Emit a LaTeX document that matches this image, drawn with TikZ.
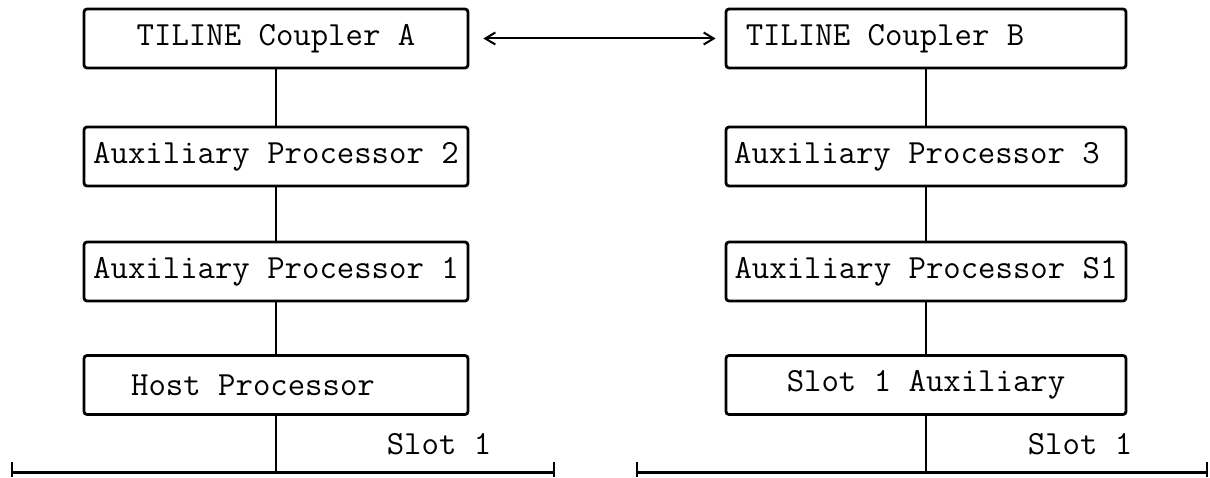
\documentclass[tikz,border=0pt]{standalone}
\usepackage{tikz}
\usetikzlibrary{arrows.meta,calc}

\begin{document}
\begin{tikzpicture}[
  x=0.5pt,y=0.5pt,
  font=\ttfamily\fontsize{16.9}{18}\selectfont,
  box/.style={draw,line width=1.4pt,rounded corners=1.5pt,minimum height=29.5pt,
              inner sep=0pt,fill=white,text=black},
  boxl/.style={box,minimum width=192pt},
  boxr/.style={box,minimum width=200pt},
  link/.style={line width=1pt},
  bus/.style={line width=1.5pt},
  flow/.style={{Straight Barb[length=5pt,width=6pt]}-{Straight Barb[length=5pt,width=6pt]},
               line width=1pt,shorten <=7pt,shorten >=4.5pt}]

\useasboundingbox (0,0) rectangle (1210,477);

% ---- nodes ------------------------------------------------------------
\node[boxl] (cplA) at (276,438.5) {TILINE Coupler A};
\node[boxl] (apII) at (276,320.5) {Auxiliary Processor 2};
\node[boxl] (apI)  at (276,205.5) {Auxiliary Processor 1};
\node[boxl] (host) at (276,92)    {Host Processor\hspace*{23pt}};

\node[boxr] (cplB)  at (926,438.5) {TILINE Coupler B\hspace*{41pt}};
\node[boxr] (apIII) at (926,320.5) {Auxiliary Processor 3\hspace*{9pt}};
\node[boxr] (apS)   at (926,205.5) {Auxiliary Processor S1};
\node[boxr] (slaux) at (926,92)    {Slot 1 Auxiliary};

% ---- slot labels ------------------------------------------------------
\node (slotL) at (439,33)  {Slot 1};
\node (slotR) at (1080,33) {Slot 1};

% ---- buses ------------------------------------------------------------
\coordinate (busLw) at (12,5);
\coordinate (busLe) at (554,5);
\coordinate (busRw) at (637,5);
\coordinate (busRe) at (1207,5);
\draw[bus] (busLw) -- (busLe);
\draw[bus] (busRw) -- (busRe);
\foreach \c in {busLw,busLe,busRw,busRe}
  \draw[link] ($(\c)+(0,-5)$) -- ($(\c)+(0,10)$);

% ---- edges ------------------------------------------------------------
\draw[link] (cplA) -- (apII);
\draw[link] (apII) -- (apI);
\draw[link] (apI) -- (host);
\draw[link] (host) -- (host |- busLw);
\draw[link] (cplB) -- (apIII);
\draw[link] (apIII) -- (apS);
\draw[link] (apS) -- (slaux);
\draw[link] (slaux) -- (slaux |- busRw);
\draw[flow] (cplA) -- (cplB);
\end{tikzpicture}
\end{document}
